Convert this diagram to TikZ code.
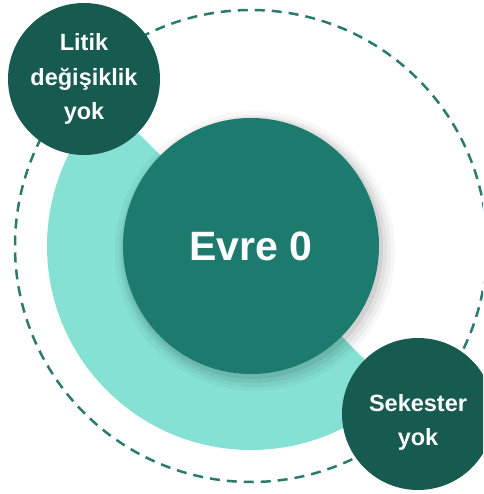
\documentclass[tikz,border=0pt]{standalone}
\usepackage{fontspec}
\setmainfont{Liberation Sans}
\newdimen\unitsize
\setlength{\unitsize}{1pt}
\definecolor{evredark}{HTML}{165A50}
\definecolor{evremid}{HTML}{1C7A6E}
\definecolor{evrelight}{HTML}{84E1D4}
\definecolor{evreline}{HTML}{2A7A6E}

\begin{document}
\begin{tikzpicture}[x=\unitsize,y=\unitsize]
\tikzset{stage/.style={circle, fill=evremid, text=white, inner sep=0, minimum size=256\unitsize, font=\bfseries\fontsize{41}{50}\selectfont}}%
\tikzset{badge/.style={circle, fill=evredark, text=white, align=center, inner sep=0, minimum size=152\unitsize, font=\bfseries\fontsize{23.5}{34.5}\selectfont}}%
\useasboundingbox (0,0) rectangle (483,494);
\clip (0,0) rectangle (483,494);
\draw[evreline, line width=2.5, dash pattern=on 10 off 7] (251,248) circle (236);
\fill[evrelight] (251,248) -- ++(135:204) arc (135:315:204) -- cycle;
% soft shadow under the stage
\fill[black, opacity=0.03] (255,243) circle (140);
\fill[black, opacity=0.04] (255,243) circle (136);
\fill[black, opacity=0.05] (254,244) circle (133);
\fill[black, opacity=0.07] (253,245) circle (130);
\node[stage] (evre) at (251,248) {Evre 0};
\node[badge] (litik) at (84,415) {Litik\\değişiklik\\yok};
\node[badge] (sekester) at (418,80) {\rule{0pt}{34pt}Sekester\\yok};
\end{tikzpicture}
\end{document}
